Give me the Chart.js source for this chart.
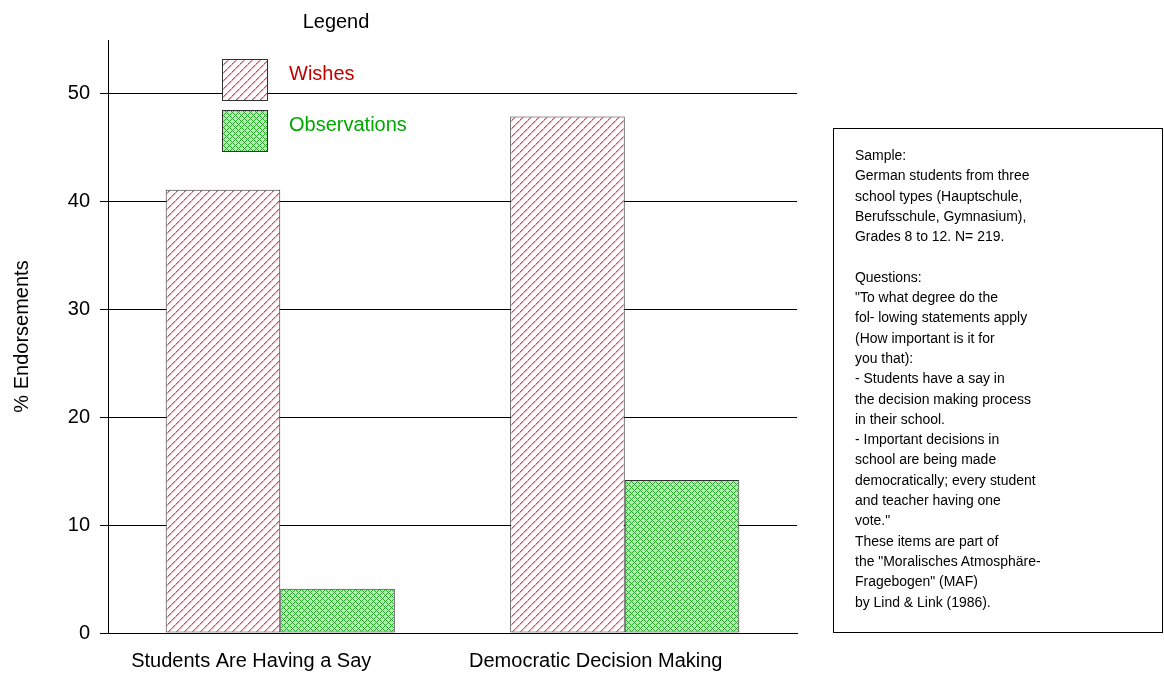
<!DOCTYPE html>
<html lang="en">
<head>
<meta charset="UTF-8" />
<title>Endorsements</title>
<style>
  body { margin: 0; background: #fff; }
  .wrap { position: relative; width: 1164px; height: 673px; }
  #notes {
    position: absolute; left: 833px; top: 128px; width: 330px; height: 505px;
    border: 1px solid #000; box-sizing: border-box; padding: 16px 0 0 21px;
    font-family: "Liberation Sans", Arial, sans-serif; font-size: 15.5px; line-height: 20.3px; color: #000;
  }
  #notes .txt { transform: scaleX(0.9); transform-origin: left top; white-space: nowrap; }
</style>
</head>
<body>
<div class="wrap">
  <canvas id="chart" width="1164" height="673"></canvas>
  <div id="notes"><div class="txt">
    Sample:<br>German students from three<br>school types (Hauptschule,<br>Berufsschule, Gymnasium),<br>Grades 8 to 12. N= 219.<br><br>
    Questions:<br>"To what degree do the<br>fol- lowing statements apply<br>(How important is it for<br>you that):<br>
    - Students have a say in<br>the decision making process<br>in their school.<br>
    - Important decisions in<br>school are being made<br>democratically; every student<br>and teacher having one<br>vote."<br>
    These items are part of<br>the "Moralisches Atmosphäre-<br>Fragebogen" (MAF)<br>by Lind &amp; Link (1986).
  </div></div>
</div>

<script src="https://cdn.jsdelivr.net/npm/chart.js@4/dist/chart.umd.min.js"></script>
<script>
const categories = ['Students Are Having a Say', 'Democratic Decision Making'];
const seriesNames = ['Wishes', 'Observations'];
const wishes = [41.1, 47.9];
const observations = [4.1, 14.2];

const FONT = '"Liberation Sans", Arial, sans-serif';

// red diagonal hatching on white, drawn pixel by pixel so it stays crisp
function hatchPattern() {
  const c = document.createElement('canvas');
  c.width = 8; c.height = 8;
  const g = c.getContext('2d');
  g.fillStyle = '#fff';
  g.fillRect(0, 0, 8, 8);
  for (let i = 0; i < 8; i++) {
    g.fillStyle = '#f4a8b0';
    g.fillRect((i + 1) % 8, 7 - i, 1, 1);
    g.fillStyle = (i % 4 === 3) ? '#f48894' : '#e83848';
    g.fillRect(i, 7 - i, 1, 1);
  }
  return g.createPattern(c, 'repeat');
}

// green cross-hatch
function crossPattern() {
  const c = document.createElement('canvas');
  c.width = 6; c.height = 6;
  const g = c.getContext('2d');
  g.fillStyle = '#b4e8b4';
  g.fillRect(0, 0, 6, 6);
  g.fillStyle = '#28a828';
  [[0,0],[2,0],[1,1],[0,2],[2,2],[3,3],[5,3],[4,4],[3,5],[5,5]].forEach(p => g.fillRect(p[0], p[1], 1, 1));
  return g.createPattern(c, 'repeat');
}

const fills = [hatchPattern(), crossPattern()];
const textColors = ['#c00000', '#00a800'];

const legendBox = {
  id: 'legendBox',
  afterDraw(chart) {
    const ctx = chart.ctx;
    ctx.save();
    ctx.font = '20px ' + FONT;
    ctx.textBaseline = 'middle';
    ctx.fillStyle = '#000';
    ctx.textAlign = 'center';
    ctx.fillText('Legend', 336, 22);
    ctx.textAlign = 'left';
    chart.data.datasets.forEach((ds, i) => {
      const y = 59 + i * 51;
      ctx.fillStyle = ds.backgroundColor;
      ctx.fillRect(222, y, 45, 41);
      ctx.strokeStyle = '#303030';
      ctx.lineWidth = 1;
      ctx.strokeRect(222.5, y + 0.5, 45, 41);
      ctx.fillStyle = textColors[i];
      ctx.fillText(ds.label, 289, y + 15);
    });
    ctx.restore();
  }
};

new Chart(document.getElementById('chart'), {
  type: 'bar',
  data: {
    labels: categories,
    datasets: [
      { label: seriesNames[0], data: wishes, backgroundColor: fills[0] },
      { label: seriesNames[1], data: observations, backgroundColor: fills[1] }
    ]
  },
  options: {
    responsive: false,
    devicePixelRatio: 1,
    animation: false,
    layout: { padding: { top: 40, right: 367, left: 0, bottom: 0 } },
    datasets: {
      bar: {
        categoryPercentage: 0.665,
        barPercentage: 1,
        borderColor: '#303030',
        borderWidth: 1,
        borderSkipped: false
      }
    },
    plugins: {
      legend: { display: false },
      tooltip: { enabled: false }
    },
    scales: {
      x: {
        grid: { display: false },
        border: { color: '#000', width: 1 },
        ticks: { color: '#000', font: { family: FONT, size: 20 }, padding: 8, labelOffset: -29, maxRotation: 0 },
        afterFit(scale) { scale.height = 40; }
      },
      y: {
        min: 0,
        max: 55,
        grid: { color: '#000', lineWidth: 1, tickLength: 8 },
        border: { color: '#000', width: 1 },
        ticks: { stepSize: 10, color: '#000', font: { family: FONT, size: 20 }, padding: 10 },
        afterBuildTicks(axis) { axis.ticks = axis.ticks.filter(t => t.value % 10 === 0); },
        title: { display: true, text: '% Endorsements', color: '#000', font: { family: FONT, size: 20 }, padding: { top: 10, bottom: 0 } },
        afterFit(scale) { scale.width = 108; }
      }
    }
  },
  plugins: [legendBox]
});
</script>
</body>
</html>
